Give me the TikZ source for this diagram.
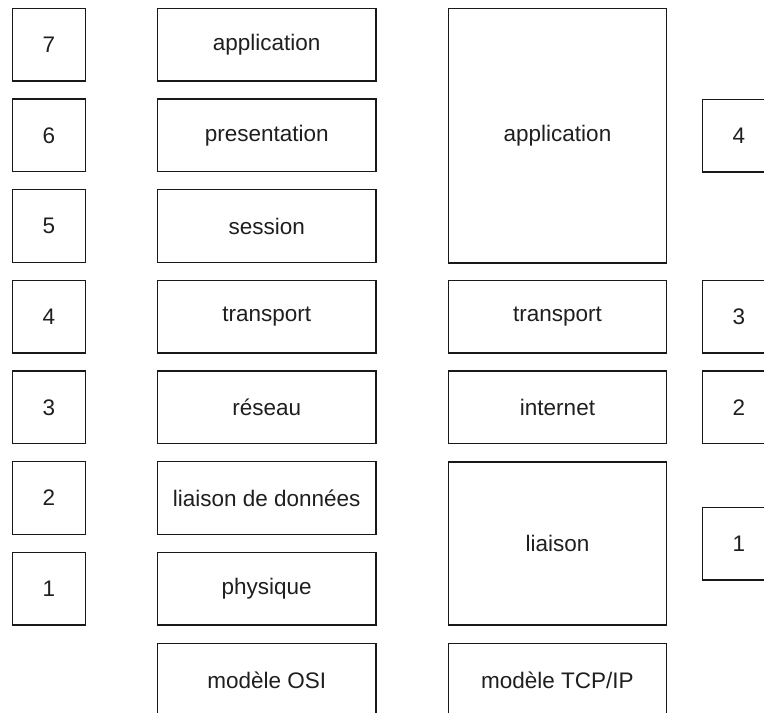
\documentclass[tikz,border=0pt]{standalone}
\usepackage{fontspec}
\setmainfont{Liberation Sans}
\begin{document}
\begin{tikzpicture}[x=1pt,y=-1pt,
  lay/.style={draw=black!90, line width=1.5pt, inner sep=0pt, fill=white,
    font=\fontsize{22.5}{27}\selectfont, text=black!88},
  numbox/.style={lay, minimum width=73.4pt, minimum height=72.7pt},
  osibox/.style={lay, minimum width=218.7pt, minimum height=72.7pt},
  tcpbox/.style={lay, minimum width=218.4pt, minimum height=72.7pt}]
\useasboundingbox (0,0) rectangle (764,713);
\clip (0,0) rectangle (764,713);
% left numbers
\node[numbox] (n7) at (49,44.7) {7};
\node[numbox] (n6) at (49,135.3) {6};
\node[numbox] (n5) at (49,226) {5};
\node[numbox] (n4) at (49,316.7) {4};
\node[numbox] (n3) at (49,407.3) {3};
\node[numbox] (n2) at (49,498) {2};
\node[numbox] (n1) at (49,588.7) {1};
% OSI
\node[osibox] (o7) at (266.7,44.7) {application};
\node[osibox] (o6) at (266.7,135.3) {presentation};
\node[osibox] (o5) at (266.7,226) {session};
\node[osibox] (o4) at (266.7,316.7) {transport};
\node[osibox] (o3) at (266.7,407.3) {réseau};
\node[osibox] (o2) at (266.7,498) {liaison de données};
\node[osibox] (o1) at (266.7,588.7) {physique};
\node[osibox] (osi) at (266.7,679.9) {modèle OSI};
% TCP/IP
\node[tcpbox, minimum height=254.7pt] (t4) at (557.5,135.7) {application};
\node[tcpbox] (t3) at (557.5,316.7) {transport};
\node[tcpbox] (t2) at (557.5,407.3) {internet};
\node[tcpbox, minimum height=163pt] (t1) at (557.5,543.7) {liaison};
\node[tcpbox] (tcp) at (557.5,679.9) {modèle TCP/IP};
% right numbers
\node[numbox] (m4) at (739,135.7) {4};
\node[numbox] (m3) at (739,316.7) {3};
\node[numbox] (m2) at (739,407.3) {2};
\node[numbox] (m1) at (739,543.7) {1};
\end{tikzpicture}
\end{document}
